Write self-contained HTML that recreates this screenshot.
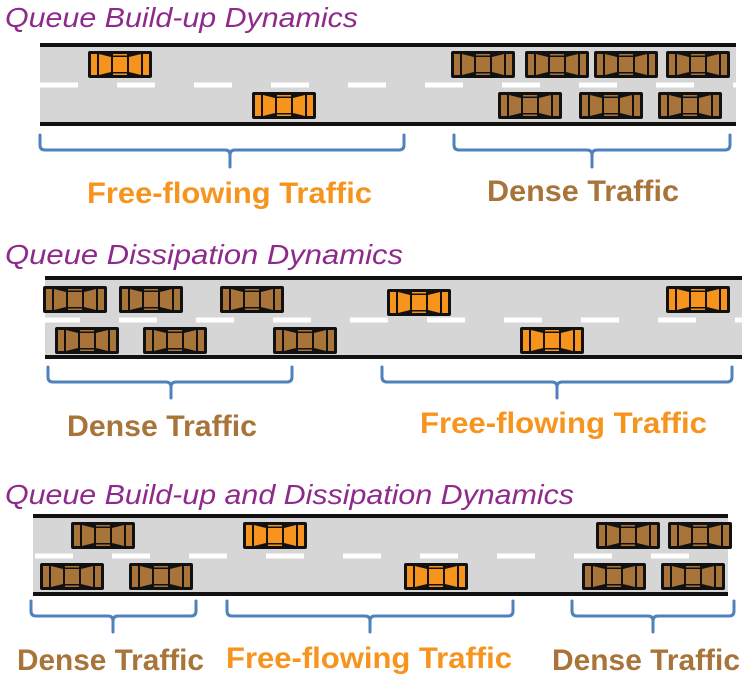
<!DOCTYPE html>
<html><head><meta charset="utf-8"><style>
html,body{margin:0;padding:0;background:#fff;}
svg{display:block;}
.t{font-family:"Liberation Sans",sans-serif;font-style:italic;fill:#8e2a8c;font-size:28px;}
.l{font-family:"Liberation Sans",sans-serif;font-weight:bold;font-size:30px;}
.o{fill:#f7941d;}
.b{fill:#a8743a;}
.br{fill:none;stroke:#4f81bd;stroke-width:3;stroke-linecap:round;stroke-linejoin:round;}
.dash{stroke:#fff;stroke-width:5;stroke-dasharray:38 39;}
</style></head><body>
<svg width="750" height="678" viewBox="0 0 750 678" xmlns="http://www.w3.org/2000/svg">
<defs>
<g id="car">
<rect x="0" y="0" width="64" height="27" rx="2" fill="#111"/>
<rect x="3" y="3" width="6" height="21"/>
<polygon points="11,3 23,6 23,21 11,24"/>
<rect x="25" y="6" width="14" height="15"/>
<rect x="25" y="3" width="14" height="1.5"/>
<rect x="25" y="22.5" width="14" height="1.5"/>
<polygon points="53,3 41,6 41,21 53,24"/>
<rect x="55" y="3" width="6" height="21"/>
</g>
</defs>

<!-- Section 1 -->
<text class="t" x="5" y="27" textLength="353" lengthAdjust="spacingAndGlyphs">Queue Build-up Dynamics</text>
<rect x="40" y="46" width="696" height="78" fill="#d6d6d6"/>
<line class="dash" x1="40" y1="85" x2="736" y2="85"/>
<rect x="40" y="43" width="696" height="4" fill="#111"/>
<rect x="40" y="122" width="696" height="4" fill="#111"/>
<use href="#car" class="o" x="88" y="51"/>
<use href="#car" class="o" x="252" y="92"/>
<use href="#car" class="b" x="451" y="51"/>
<use href="#car" class="b" x="525" y="51"/>
<use href="#car" class="b" x="594" y="51"/>
<use href="#car" class="b" x="666" y="51"/>
<use href="#car" class="b" x="498" y="92"/>
<use href="#car" class="b" x="579" y="92"/>
<use href="#car" class="b" x="658" y="92"/>
<path class="br" d="M40,135 v10 q0,5 5,5 H225 q5,0 5,5 v12 M230,155 q0,-5 5,-5 H399 q5,0 5,-5 v-10"/>
<path class="br" d="M454,135 v10 q0,5 5,5 H587 q5,0 5,5 v12 M592,155 q0,-5 5,-5 H725 q5,0 5,-5 v-10"/>
<text class="l o" x="87" y="203" textLength="285" lengthAdjust="spacingAndGlyphs">Free-flowing Traffic</text>
<text class="l b" x="487" y="201" textLength="192" lengthAdjust="spacingAndGlyphs">Dense Traffic</text>

<!-- Section 2 -->
<text class="t" x="5" y="264" textLength="398" lengthAdjust="spacingAndGlyphs">Queue Dissipation Dynamics</text>
<rect x="45" y="279" width="697" height="78" fill="#d6d6d6"/>
<line class="dash" x1="42" y1="320" x2="742" y2="320"/>
<rect x="45" y="276" width="697" height="4" fill="#111"/>
<rect x="45" y="355" width="697" height="4" fill="#111"/>
<use href="#car" class="b" x="43" y="286"/>
<use href="#car" class="b" x="119" y="286"/>
<use href="#car" class="b" x="220" y="286"/>
<use href="#car" class="o" x="387" y="289"/>
<use href="#car" class="o" x="666" y="286"/>
<use href="#car" class="b" x="55" y="327"/>
<use href="#car" class="b" x="143" y="327"/>
<use href="#car" class="b" x="273" y="327"/>
<use href="#car" class="o" x="520" y="327"/>
<path class="br" d="M48,367 v10 q0,5 5,5 H166 q5,0 5,5 v11 M171,387 q0,-5 5,-5 H287 q5,0 5,-5 v-10"/>
<path class="br" d="M382,367 v10 q0,5 5,5 H552 q5,0 5,5 v11 M557,387 q0,-5 5,-5 H727 q5,0 5,-5 v-10"/>
<text class="l b" x="67" y="436" textLength="190" lengthAdjust="spacingAndGlyphs">Dense Traffic</text>
<text class="l o" x="420" y="433" textLength="287" lengthAdjust="spacingAndGlyphs">Free-flowing Traffic</text>

<!-- Section 3 -->
<text class="t" x="5" y="504" textLength="569" lengthAdjust="spacingAndGlyphs">Queue Build-up and Dissipation Dynamics</text>
<rect x="33" y="517" width="695" height="77" fill="#d6d6d6"/>
<line class="dash" x1="35" y1="556" x2="732" y2="556"/>
<rect x="33" y="514" width="695" height="4" fill="#111"/>
<rect x="33" y="592" width="695" height="4" fill="#111"/>
<use href="#car" class="b" x="71" y="522"/>
<use href="#car" class="o" x="243" y="522"/>
<use href="#car" class="b" x="596" y="522"/>
<use href="#car" class="b" x="668" y="522"/>
<use href="#car" class="b" x="40" y="563"/>
<use href="#car" class="b" x="129" y="563"/>
<use href="#car" class="o" x="404" y="563"/>
<use href="#car" class="b" x="582" y="563"/>
<use href="#car" class="b" x="661" y="563"/>
<path class="br" d="M31,601 v10 q0,5 5,5 H108 q5,0 5,5 v11 M113,621 q0,-5 5,-5 H191 q5,0 5,-5 v-10"/>
<path class="br" d="M227,601 v10 q0,5 5,5 H365 q5,0 5,5 v11 M370,621 q0,-5 5,-5 H508 q5,0 5,-5 v-10"/>
<path class="br" d="M572,601 v10 q0,5 5,5 H648 q5,0 5,5 v11 M653,621 q0,-5 5,-5 H729 q5,0 5,-5 v-10"/>
<text class="l b" x="17" y="670" textLength="187" lengthAdjust="spacingAndGlyphs">Dense Traffic</text>
<text class="l o" x="226" y="668" textLength="286" lengthAdjust="spacingAndGlyphs">Free-flowing Traffic</text>
<text class="l b" x="552" y="670" textLength="188" lengthAdjust="spacingAndGlyphs">Dense Traffic</text>
</svg>
</body></html>
